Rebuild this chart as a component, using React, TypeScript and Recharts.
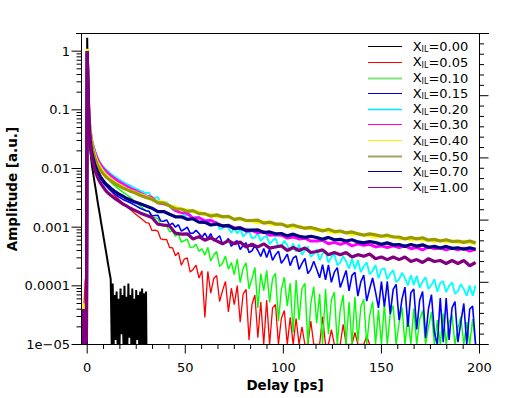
import { LineChart, Line, XAxis, YAxis, ReferenceLine } from "recharts";

// delay grid (ps) for the smoother traces
const DELAY = [
  -2.8, -2, -1, -0.4, 0, 0.3, 0.6, 1, 1.5, 2, 2.5, 3, 4, 5, 6, 7, 8, 9, 10, 12, 14, 16, 18, 20, 22, 24, 27, 30,
  33, 36, 39, 42, 45, 48, 51, 54, 57, 60, 63, 66, 69, 72, 75, 78, 81, 84, 87, 90, 93, 96, 99, 102, 105, 108,
  111, 114, 117, 120, 123, 126, 129, 132, 135, 138, 141, 144, 147, 150, 153, 156, 159, 162, 165, 168, 171,
  174, 177, 180, 183, 186, 189, 192, 195, 198,
];

// finer grid for the noisy traces (0.05, 0.10, 0.15, 0.20)
const FINE_DELAY = [
  -2.8, -2, -1, -0.4, 0, 0.3, 0.6, 1, 1.5, 2, 2.5, 3, 4, 5, 6, 7, 8, 9, 10, 12, 14, 16, 18, 20, 22, 24, 27, 30,
  31.5, 33, 34.5, 36, 37.5, 39, 40.5, 42, 43.5, 45,
  46.5, 48, 49.5, 51, 52.5, 54, 55.5, 57, 58.5, 60,
  61.5, 63, 64.5, 66, 67.5, 69, 70.5, 72, 73.5, 75,
  76.5, 78, 79.5, 81, 82.5, 84, 85.5, 87, 88.5, 90,
  91.5, 93, 94.5, 96, 97.5, 99, 100.5, 102, 103.5, 105,
  106.5, 108, 109.5, 111, 112.5, 114, 115.5, 117, 118.5, 120,
  121.5, 123, 124.5, 126, 127.5, 129, 130.5, 132, 133.5, 135,
  136.5, 138, 139.5, 141, 142.5, 144, 145.5, 147, 148.5, 150,
  151.5, 153, 154.5, 156, 157.5, 159, 160.5, 162, 163.5, 165,
  166.5, 168, 169.5, 171, 172.5, 174, 175.5, 177, 178.5, 180,
  181.5, 183, 184.5, 186, 187.5, 189, 190.5, 192, 193.5, 195,
  196.5, 198,
];

// the pure solvent trace is sampled finer still and stops at 30 ps
const BLACK_DELAY = [
  -2.8, -2, -1, -0.4, 0, 0.3, 0.6, 1, 1.5, 2, 2.5, 3, 3.5, 4, 4.5, 5, 5.5, 6, 6.5, 7, 7.5, 8, 8.5, 9, 9.5, 10,
  10.5, 11, 11.5, 12, 12.5, 13, 13.5, 14, 14.5, 15, 15.5, 16, 16.5, 17, 17.5, 18, 18.5, 19, 19.5, 20, 20.5, 21,
  21.5, 22, 22.5, 23, 23.5, 24, 24.5, 25, 25.5, 26, 26.5, 27, 27.5, 28, 28.5, 29, 29.5, 30, 30.2,
];

const AMP_000 = [
  1e-5, 1e-5, 1e-5, 1e-5, 1.7, 0.35, 0.11, 0.045, 0.024, 0.015, 0.0107, 0.0085, 0.0066, 0.0052, 0.0041, 0.0032,
  0.0025, 0.002, 0.0016, 0.00125, 0.001, 0.0008, 0.00063, 0.0005, 0.0004, 0.00032, 0.00025, 0.0002, 0.00016,
  0.00013, 1e-5, 1.1e-4, 1e-5, 7e-5, 1.2e-5, 8e-5, 1e-5, 6e-5, 1e-5, 9e-5, 1.5e-5, 7e-5, 1e-5, 1e-4, 1e-5,
  6.5e-5, 1e-5, 1.1e-4, 1.3e-5, 7e-5, 1e-5, 9e-5, 1e-5, 6e-5, 1e-5, 8.5e-5, 1.2e-5, 7e-5, 1e-5, 8e-5, 1e-5,
  9e-5, 1e-5, 7.5e-5, 1e-5, 8e-5, 1e-5,
];

const AMP_005 = [
  1.2e-5, 2.5e-5, 1.3e-4, 3e-5,
  1.0, 0.42, 0.16, 0.066, 0.04, 0.029, 0.023, 0.019, 0.0138, 0.0108, 0.0089, 0.0076, 0.0066, 0.0058, 0.0052,
  0.0042, 0.0035, 0.003, 0.0026, 0.0023, 0.002, 0.00175, 0.00145, 0.0012,
  1.17e-3, 8.74e-4, 8.94e-4, 8.58e-4, 6.3e-4, 6.11e-4, 6.16e-4, 4.5e-4, 4.45e-4, 3.26e-4,
  3.72e-4, 2.24e-4, 2.86e-4, 3.0e-4, 1.72e-4, 1.9e-4, 2.26e-4, 1.36e-4, 1.81e-4, 2.9e-5,
  1.76e-4, 7.5e-5, 1.33e-4, 1.5e-4, 5.4e-5, 8.3e-5, 1.19e-4, 3.6e-5, 9.1e-5, 4.8e-5,
  1.01e-4, 2.4e-5, 7.2e-5, 8.7e-5, 1.2e-5, 4.8e-5, 7.0e-5, 1.3e-5, 5.3e-5, 1e-5,
  5.7e-5, 1e-5, 4.2e-5, 4.8e-5, 1e-5, 2.8e-5, 3.8e-5, 1e-5, 2.9e-5, 1e-5,
  2.8e-5, 1e-5, 2e-5, 1e-5, 1e-5, 2.5e-5, 1e-5, 1e-5, 1e-5, 3e-5,
  1e-5, 1e-5, 1.8e-5, 1e-5, 1e-5, 1e-5, 2.2e-5, 1e-5, 1e-5, 1e-5,
  1.6e-5, 1e-5, 1e-5, 1e-5, 1.4e-5, 1e-5, null, null, null, null,
  null, null, null, null, null, null, null, null, null, null,
  null, null, null, null, null, null, null, null, null, null,
  null, null, null, null, null, null, null, null, null, null,
  null, null,
];

const AMP_010 = [
  1e-5, 1e-5, 2e-5, 1e-5,
  1.0, 0.43, 0.17, 0.07, 0.044, 0.033, 0.027, 0.023, 0.017, 0.0137, 0.0115, 0.01, 0.0088, 0.0078, 0.007,
  0.0059, 0.0051, 0.0045, 0.004, 0.0036, 0.0032, 0.0028, 0.0023, 0.0019,
  1.86e-3, 1.44e-3, 1.45e-3, 1.41e-3, 1.08e-3, 1.02e-3, 1.06e-3, 8.37e-4, 8.61e-4, 6.98e-4,
  7.73e-4, 5.54e-4, 5.9e-4, 6.27e-4, 4.52e-4, 4.56e-4, 5.12e-4, 3.87e-4, 4.29e-4, 3.34e-4,
  4.5e-4, 2.65e-4, 3.36e-4, 3.84e-4, 2.14e-4, 2.43e-4, 3.21e-4, 1.92e-4, 2.5e-4, 1.55e-4,
  2.84e-4, 1.14e-4, 1.98e-4, 2.47e-4, 8.9e-5, 1.32e-4, 2.06e-4, 4.2e-5, 1.61e-4, 8.3e-5,
  1.83e-4, 5.2e-5, 1.33e-4, 1.64e-4, 2.5e-5, 8.7e-5, 1.4e-4, 4.5e-5, 1.11e-4, 1.6e-5,
  1.25e-4, 2.6e-5, 9.0e-5, 1.1e-4, 1e-5, 5.0e-5, 9.6e-5, 2.3e-5, 7.3e-5, 1e-5,
  8.8e-5, 1.5e-5, 5.8e-5, 7.8e-5, 1e-5, 3.9e-5, 7.0e-5, 1e-5, 5.3e-5, 1e-5,
  6.5e-5, 1.1e-5, 4.4e-5, 5.9e-5, 1e-5, 3.1e-5, 5.4e-5, 1e-5, 3.9e-5, 1e-5,
  4.9e-5, 1e-5, 3.3e-5, 4.6e-5, 1e-5, 2.3e-5, 4.3e-5, 1e-5, 3.2e-5, 1e-5,
  4.1e-5, 1e-5, 2.7e-5, 3.8e-5, 1e-5, 2.0e-5, 3.6e-5, 1e-5, 2.6e-5, 1e-5,
  3.4e-5, 1e-5, 2.4e-5, 3.2e-5, 1e-5, 1.9e-5, 3.0e-5, 1e-5, 2.4e-5, 1e-5,
  2.7e-5, 1e-5,
];

const AMP_015 = [
  1e-5, 1e-5, 1e-5, 1.5e-5,
  1.0, 0.38, 0.13, 0.052, 0.031, 0.022, 0.0172, 0.0145, 0.0108, 0.0088, 0.0075, 0.0066, 0.0059, 0.0053, 0.0049,
  0.0042, 0.0037, 0.0033, 0.003, 0.0028, 0.0026, 0.0024, 0.0021, 0.0019,
  1.87e-3, 1.55e-3, 1.58e-3, 1.6e-3, 1.27e-3, 1.26e-3, 1.33e-3, 1.08e-3, 1.17e-3, 1.0e-3,
  1.1e-3, 8.55e-4, 9.2e-4, 1.0e-3, 7.83e-4, 7.89e-4, 8.8e-4, 7.8e-4, 6.72e-4, 7.88e-4,
  6.35e-4, 7.75e-4, 5.81e-4, 6.4e-4, 7.13e-4, 5.16e-4, 5.51e-4, 6.38e-4, 4.7e-4, 5.51e-4,
  5.88e-4, 4.17e-4, 4.85e-4, 5.43e-4, 3.69e-4, 3.96e-4, 4.86e-4, 4.0e-4, 3.18e-4, 4.31e-4,
  3.04e-4, 4.2e-4, 2.72e-4, 3.37e-4, 3.9e-4, 2.42e-4, 2.85e-4, 3.48e-4, 2.21e-4, 2.97e-4,
  3.25e-4, 1.9e-4, 2.42e-4, 2.94e-4, 1.62e-4, 1.91e-4, 2.63e-4, 1.92e-4, 1.37e-4, 2.29e-4,
  1.27e-4, 2.28e-4, 1.15e-4, 1.71e-4, 2.04e-4, 9.4e-5, 1.31e-4, 1.83e-4, 8.2e-5, 1.51e-4,
  1.7e-4, 6.7e-5, 1.17e-4, 1.53e-4, 5.5e-5, 8.9e-5, 1.36e-4, 7.8e-5, 4.2e-5, 1.18e-4,
  4.4e-5, 1.19e-4, 3.3e-5, 8.7e-5, 1.06e-4, 2.6e-5, 6.0e-5, 9.5e-5, 2.0e-5, 7.6e-5,
  8.8e-5, 1.8e-5, 5.7e-5, 8.0e-5, 1.3e-5, 4.1e-5, 7.1e-5, 1.6e-5, 1e-5, 6.2e-5,
  1.1e-5, 6.2e-5, 1.2e-5, 4.2e-5, 5.4e-5, 1.1e-5, 2.4e-5, 5.0e-5, 1e-5, 4.0e-5,
  4.5e-5, 1e-5,
];

const AMP_020 = [
  1e-5, 1e-5, 1e-5, 1e-5,
  1.05, 0.45, 0.18, 0.075, 0.048, 0.037, 0.03, 0.026, 0.02, 0.0162, 0.0138, 0.0122, 0.011, 0.0101, 0.0094,
  0.0082, 0.0073, 0.0066, 0.006, 0.0055, 0.0051, 0.0047, 0.0042, 0.0038,
  3.89e-3, 3.12e-3, 3.15e-3, 3.25e-3, 2.56e-3, 2.47e-3, 2.67e-3, 2.3e-3, 1.96e-3, 2.14e-3,
  1.76e-3, 1.93e-3, 1.54e-3, 1.6e-3, 1.66e-3, 1.33e-3, 1.48e-3, 1.51e-3, 1.23e-3, 1.23e-3,
  1.37e-3, 1.06e-3, 1.12e-3, 1.25e-3, 9.3e-4, 9.5e-4, 1.08e-3, 9.7e-4, 8.0e-4, 1.0e-3,
  7.74e-4, 9.55e-4, 6.92e-4, 7.8e-4, 8.53e-4, 6.42e-4, 6.7e-4, 7.89e-4, 5.74e-4, 6.72e-4,
  7.13e-4, 5.1e-4, 5.92e-4, 6.55e-4, 4.54e-4, 4.78e-4, 5.86e-4, 4.9e-4, 3.94e-4, 5.24e-4,
  3.83e-4, 5.07e-4, 3.4e-4, 4.0e-4, 4.66e-4, 3.15e-4, 3.48e-4, 4.17e-4, 2.75e-4, 3.56e-4,
  3.84e-4, 2.48e-4, 3.09e-4, 3.54e-4, 2.23e-4, 2.48e-4, 3.2e-4, 2.6e-4, 1.97e-4, 2.89e-4,
  1.93e-4, 2.76e-4, 1.7e-4, 2.14e-4, 2.52e-4, 1.57e-4, 1.81e-4, 2.26e-4, 1.35e-4, 1.89e-4,
  1.99e-4, 1.29e-4, 1.61e-4, 1.84e-4, 1.16e-4, 1.29e-4, 1.67e-4, 1.35e-4, 1.02e-4, 1.51e-4,
  1.03e-4, 1.49e-4, 9.3e-5, 1.18e-4, 1.4e-4, 8.8e-5, 1.03e-4, 1.3e-4, 7.9e-5, 1.12e-4,
  1.2e-4, 7.8e-5, 9.9e-5, 1.15e-4, 7.3e-5, 8.1e-5, 1.07e-4, 8.8e-5, 6.8e-5, 1.01e-4,
  6.8e-5, 1.01e-4,
];

const AMP_030 = [
  1e-5, 1e-5, 1e-5, 1e-5,
  1.0, 0.44, 0.17, 0.072, 0.046, 0.035, 0.028, 0.024, 0.0185, 0.015, 0.0128, 0.0113, 0.0102, 0.0093, 0.0086,
  0.0075, 0.0067, 0.006, 0.0055, 0.005, 0.0046, 0.0043, 0.0038, 0.0034,
  3.2e-3, 2.61e-3, 2.5e-3, 2.33e-3, 1.92e-3, 1.78e-3, 1.72e-3, 1.43e-3, 1.45e-3, 1.28e-3, 1.31e-3, 1.16e-3,
  1.05e-3, 1.08e-3, 9.7e-4, 9.9e-4, 8.5e-4, 8.8e-4, 8.0e-4, 8.4e-4, 7.3e-4, 7.4e-4, 7.3e-4, 6.5e-4, 6.8e-4,
  6.3e-4, 6.5e-4, 5.8e-4, 5.8e-4, 6.0e-4, 5.2e-4, 5.5e-4, 5.1e-4, 5.5e-4, 4.8e-4, 5.2e-4, 4.9e-4, 5.1e-4,
  4.6e-4, 4.8e-4, 4.5e-4, 4.8e-4, 4.5e-4, 4.8e-4, 4.3e-4, 4.5e-4, 4.1e-4, 4.6e-4, 4.3e-4, 4.4e-4, 4.1e-4,
  4.4e-4, 4.1e-4, 4.4e-4, 3.9e-4, 4.2e-4,
];

const AMP_040 = [
  2e-5, 5e-5, 3e-5, 6e-5,
  1.1, 0.42, 0.16, 0.068, 0.042, 0.032, 0.026, 0.022, 0.0165, 0.0132, 0.0113, 0.01, 0.009, 0.0082, 0.0076,
  0.0066, 0.0059, 0.0053, 0.0049, 0.0045, 0.0042, 0.004, 0.0036, 0.0033,
  3.01e-3, 2.7e-3, 2.68e-3, 2.28e-3, 2.22e-3, 1.95e-3, 1.99e-3, 1.82e-3, 1.83e-3, 1.62e-3, 1.65e-3, 1.51e-3,
  1.5e-3, 1.52e-3, 1.34e-3, 1.39e-3, 1.28e-3, 1.28e-3, 1.17e-3, 1.24e-3, 1.14e-3, 1.09e-3, 1.12e-3, 1.05e-3,
  9.8e-4, 1.04e-3, 9.4e-4, 9.5e-4, 8.7e-4, 9.2e-4, 8.4e-4, 8.0e-4, 8.3e-4, 8.0e-4, 7.5e-4, 7.9e-4, 7.3e-4,
  7.2e-4, 6.7e-4, 7.1e-4, 6.7e-4, 7.0e-4, 6.3e-4, 6.5e-4, 6.0e-4, 6.4e-4, 6.0e-4, 6.1e-4, 5.7e-4, 6.0e-4,
  5.6e-4, 5.8e-4, 5.4e-4, 5.7e-4, 5.4e-4, 5.2e-4,
];

const AMP_050 = [
  1e-5, 1e-5, 1e-5, 1e-5,
  1.0, 0.4, 0.15, 0.065, 0.04, 0.03, 0.024, 0.02, 0.015, 0.012, 0.0103, 0.0092, 0.0083, 0.0076, 0.007, 0.0062,
  0.0056, 0.0051, 0.0047, 0.0044, 0.0041, 0.0039, 0.0035, 0.0032,
  2.99e-3, 2.62e-3, 2.6e-3, 2.3e-3, 2.06e-3, 2.04e-3, 1.86e-3, 1.91e-3, 1.7e-3, 1.7e-3, 1.54e-3, 1.62e-3,
  1.5e-3, 1.53e-3, 1.36e-3, 1.41e-3, 1.3e-3, 1.3e-3, 1.32e-3, 1.17e-3, 1.22e-3, 1.13e-3, 1.13e-3, 1.03e-3,
  1.09e-3, 1.01e-3, 9.6e-4, 9.9e-4, 9.3e-4, 8.6e-4, 9.2e-4, 8.4e-4, 8.6e-4, 8.0e-4, 8.3e-4, 7.7e-4, 7.3e-4,
  7.7e-4, 7.4e-4, 7.0e-4, 7.3e-4, 6.8e-4, 6.8e-4, 6.3e-4, 6.7e-4, 6.3e-4, 6.6e-4, 6.0e-4, 6.2e-4, 5.8e-4,
  6.1e-4, 5.7e-4, 5.8e-4, 5.5e-4, 5.8e-4, 5.4e-4,
];

const AMP_070 = [
  1e-5, 1e-5, 1e-5, 1e-5,
  1.0, 0.38, 0.13, 0.052, 0.031, 0.022, 0.0175, 0.015, 0.0112, 0.0092, 0.0079, 0.007, 0.0063, 0.0057, 0.0053,
  0.0046, 0.0041, 0.0037, 0.0034, 0.0031, 0.0029, 0.0027, 0.0025, 0.0023,
  2.11e-3, 1.84e-3, 1.85e-3, 1.66e-3, 1.5e-3, 1.5e-3, 1.36e-3, 1.39e-3, 1.22e-3, 1.21e-3, 1.09e-3, 1.13e-3,
  1.05e-3, 1.06e-3, 9.4e-4, 9.7e-4, 8.9e-4, 8.9e-4, 9.0e-4, 8.1e-4, 8.3e-4, 7.7e-4, 7.8e-4, 7.1e-4, 7.6e-4,
  7.0e-4, 6.7e-4, 7.0e-4, 6.65e-4, 6.2e-4, 6.7e-4, 6.1e-4, 6.2e-4, 5.8e-4, 6.1e-4, 5.6e-4, 5.4e-4, 5.7e-4,
  5.45e-4, 5.1e-4, 5.4e-4, 5.0e-4, 5.05e-4, 4.7e-4, 5.05e-4, 4.75e-4, 5.0e-4, 4.55e-4, 4.7e-4, 4.4e-4,
  4.7e-4, 4.35e-4, 4.45e-4, 4.2e-4, 4.45e-4, 4.2e-4,
];

const AMP_100 = [
  1e-5, 4e-5, 1e-5, 1.2e-5,
  1.0, 0.35, 0.12, 0.047, 0.027, 0.019, 0.0148, 0.0125, 0.0093, 0.0075, 0.0063, 0.0055, 0.0049, 0.0044, 0.004,
  0.0035, 0.0031, 0.0028, 0.0025, 0.0023, 0.0021, 0.00195, 0.00175, 0.0016,
  1.46e-3, 1.12e-3, 1.09e-3, 1.05e-3, 7.9e-4, 7.6e-4, 7.7e-4, 6.3e-4, 6.9e-4, 6.0e-4, 6.6e-4, 5.85e-4,
  5.2e-4, 5.9e-4, 5.2e-4, 5.6e-4, 4.6e-4, 5.1e-4, 4.6e-4, 5.2e-4, 4.4e-4, 4.6e-4, 4.8e-4, 4.0e-4, 4.5e-4,
  4.0e-4, 4.4e-4, 3.7e-4, 3.85e-4, 4.1e-4, 3.4e-4, 3.7e-4, 3.4e-4, 3.7e-4, 3.1e-4, 3.4e-4, 3.2e-4, 3.5e-4,
  2.9e-4, 3.1e-4, 2.8e-4, 3.1e-4, 2.8e-4, 3.1e-4, 2.6e-4, 2.8e-4, 2.5e-4, 2.9e-4, 2.6e-4, 2.7e-4, 2.4e-4,
  2.7e-4, 2.4e-4, 2.7e-4, 2.2e-4, 2.5e-4,
];

const X_MAJOR = [0, 50, 100, 150, 200];
const TOP_MAJOR = [-1, 0, 1, 2, 3, 4, 5, 6];
const RIGHT_MAJOR = [0, 1, 2, 3, 4, 5];
const Y_DECADES = [-5, -4, -3, -2, -1, 0];
const Y_TICK_LABELS = ["1e\u221205", "0.0001", "0.001", "0.01", "0.1", "1"];

const SERIES = [
  { label: "0.00", color: "#000000", delay: BLACK_DELAY, amp: AMP_000, width: 2, legendColor: "#000000", legendWidth: 1 },
  { label: "0.05", color: "#ff0000", delay: FINE_DELAY, amp: AMP_005, width: 1.3, legendColor: "#ff0000", legendWidth: 1 },
  { label: "0.10", color: "#00ff00", delay: FINE_DELAY, amp: AMP_010, width: 1.4, legendColor: "#7fe67f", legendWidth: 2 },
  { label: "0.15", color: "#0000ff", delay: FINE_DELAY, amp: AMP_015, width: 1.6, legendColor: "#0000cc", legendWidth: 1 },
  { label: "0.20", color: "#00ffff", delay: FINE_DELAY, amp: AMP_020, width: 1.8, legendColor: "#00e8ff", legendWidth: 1.5 },
  { label: "0.30", color: "#ff00ff", delay: DELAY, amp: AMP_030, width: 3, legendColor: "#ff00ff", legendWidth: 1 },
  { label: "0.40", color: "#ffff00", delay: DELAY, amp: AMP_040, width: 3, legendColor: "#f0f000", legendWidth: 1 },
  { label: "0.50", color: "#999900", delay: DELAY, amp: AMP_050, width: 3.2, legendColor: "#a3a36a", legendWidth: 2 },
  { label: "0.70", color: "#000080", delay: DELAY, amp: AMP_070, width: 3.2, legendColor: "#000080", legendWidth: 1 },
  { label: "1.00", color: "#800080", delay: DELAY, amp: AMP_100, width: 3.2, legendColor: "#a000a0", legendWidth: 1 },
];

const FONT = "DejaVu Sans";

// major ticks plus evenly spaced minor ticks between each pair
function subdivide(majors: number[], parts: number) {
  const out: number[] = [];
  for (let i = 0; i < majors.length - 1; i++) {
    const step = (majors[i + 1] - majors[i]) / parts;
    for (let k = 0; k < parts; k++) out.push(majors[i] + k * step);
  }
  out.push(majors[majors.length - 1]);
  return out;
}

const isMajor = (v: number, majors: number[]) => majors.some((m) => Math.abs(m - v) < 1e-6);

const LOG_TICKS: number[] = [];
Y_DECADES.forEach((d) => {
  const top = d === 0 ? 1 : 9;
  for (let m = 1; m <= top; m++) LOG_TICKS.push(m * Math.pow(10, d));
});

function LeftTick(props: any) {
  const { x, y, payload } = props;
  const e = Math.log10(payload.value);
  const major = Math.abs(e - Math.round(e)) < 1e-6;
  const len = major ? 10 : 5;
  return (
    <g>
      <line x1={x} x2={x - len} y1={y} y2={y} stroke="#000" />
      {major && (
        <text x={x - 11.5} y={y} textAnchor="end" dominantBaseline="central" fontSize={13} fontFamily={FONT} fill="#000">
          {Y_TICK_LABELS[Math.round(e) + 5]}
        </text>
      )}
    </g>
  );
}

function BottomTick(props: any) {
  const { x, y, payload } = props;
  const major = isMajor(payload.value, X_MAJOR);
  return (
    <g>
      <line x1={x} x2={x} y1={y} y2={y + (major ? 9 : 4.5)} stroke="#000" />
      {major && (
        <text x={x} y={y + 23} textAnchor="middle" dominantBaseline="central" fontSize={13} fontFamily={FONT} fill="#000">
          {payload.value}
        </text>
      )}
    </g>
  );
}

function TopTick(props: any) {
  const { x, y, payload } = props;
  const major = isMajor(payload.value, TOP_MAJOR);
  return <line x1={x} x2={x} y1={y} y2={y - (major ? 9 : 4.5)} stroke="#000" />;
}

function RightTick(props: any) {
  const { x, y, payload } = props;
  const major = isMajor(payload.value, RIGHT_MAJOR);
  return <line x1={x} x2={x + (major ? 9 : 4.5)} y1={y} y2={y} stroke="#000" />;
}

function Legend() {
  return (
    <svg width={514} height={398} style={{ position: "absolute", left: 0, top: 0, pointerEvents: "none" }}>
      {SERIES.map((s, i) => {
        const cy = 46.3 + i * 15.62;
        const ly = Math.round(cy) + 0.5;
        return (
          <g key={s.label}>
            <line x1={368} x2={402} y1={ly} y2={ly} stroke={s.legendColor} strokeWidth={s.legendWidth} />
            <text x={412.7} y={cy} dominantBaseline="central" fontSize={13} fontFamily={FONT} fill="#000">
              X
              <tspan fontSize={8} dy={3}>IL</tspan>
              <tspan dy={-3}>={s.label}</tspan>
            </text>
          </g>
        );
      })}
    </svg>
  );
}

export default function App() {
  return (
    <div style={{ position: "absolute", left: 0, top: 0, width: 514, height: 398, background: "#fff" }}>
      <LineChart width={514} height={398} margin={{ top: 0, right: 0, bottom: 0, left: 0 }}>
        <XAxis
          xAxisId={0}
          type="number"
          dataKey="t"
          domain={[-2.9, 200]}
          allowDataOverflow
          ticks={subdivide(X_MAJOR, 6)}
          interval={0}
          tick={BottomTick}
          tickLine={false}
          axisLine={false}
          tickSize={0}
          tickMargin={0}
          height={53.5}
          label={() => (
            <text x={285} y={385} textAnchor="middle" dominantBaseline="central" fontSize={13.5} fontWeight="bold" fontFamily={FONT} fill="#000">
              Delay [ps]
            </text>
          )}
        />
        <XAxis
          xAxisId="top"
          orientation="top"
          type="number"
          domain={[-1, 6]}
          allowDataOverflow
          ticks={subdivide(TOP_MAJOR, 6)}
          interval={0}
          tick={TopTick}
          tickLine={false}
          axisLine={false}
          tickSize={0}
          tickMargin={0}
          height={33.5}
        />
        <YAxis
          yAxisId="left"
          scale="log"
          type="number"
          domain={[1e-5, 2]}
          allowDataOverflow
          ticks={LOG_TICKS}
          interval={0}
          tick={LeftTick}
          tickLine={false}
          axisLine={{ stroke: "#000" }}
          tickSize={0}
          tickMargin={0}
          width={81.5}
          label={() => (
            <text
              x={12}
              y={189}
              transform="rotate(-90 12 189)"
              textAnchor="middle"
              dominantBaseline="central"
              fontSize={13.5}
              fontWeight="bold"
              fontFamily={FONT}
              fill="#000"
            >
              Amplitude [a.u.]
            </text>
          )}
        />
        <YAxis
          yAxisId="right"
          orientation="right"
          type="number"
          domain={[0, 5]}
          allowDataOverflow
          ticks={subdivide(RIGHT_MAJOR, 6)}
          interval={0}
          tick={RightTick}
          tickLine={false}
          axisLine={{ stroke: "#000" }}
          tickSize={0}
          tickMargin={0}
          width={34.5}
        />
        {SERIES.map((s) => (
          <Line
            key={s.label}
            xAxisId={0}
            yAxisId="left"
            data={s.delay.map((t, i) => ({ t, v: s.amp[i] }))}
            dataKey="v"
            type="linear"
            stroke={s.color}
            strokeWidth={s.width}
            strokeLinejoin="bevel"
            dot={false}
            activeDot={false}
            isAnimationActive={false}
          />
        ))}
        <ReferenceLine
          xAxisId={0}
          yAxisId="left"
          segment={[{ x: -2.9, y: 1e-5 }, { x: 204.6, y: 1e-5 }]}
          stroke="#000"
          ifOverflow="visible"
        />
        <ReferenceLine
          xAxisId={0}
          yAxisId="left"
          segment={[{ x: -5.7, y: 2 }, { x: 204.85, y: 2 }]}
          stroke="#000"
          ifOverflow="visible"
        />
      </LineChart>
      <Legend />
    </div>
  );
}
